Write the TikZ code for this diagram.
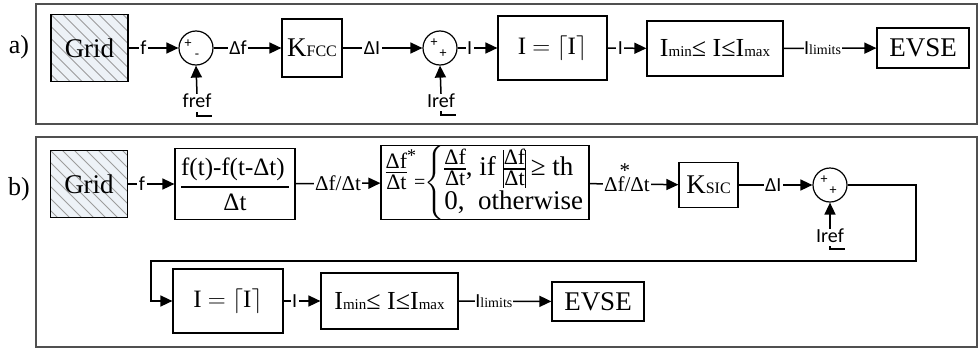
\documentclass[tikz,border=0pt]{standalone}
\usepackage{amsmath}
\usepackage{fontspec}
\setmainfont{Liberation Serif}
\newfontfamily\lblfont{Carlito}
\usetikzlibrary{arrows.meta,calc}
\definecolor{gridfill}{HTML}{EDF2F7}
\definecolor{hatchc}{HTML}{9C9C9C}
\definecolor{panelc}{HTML}{505050}
% stacked fraction built from a tabular
\newcommand\FR[2]{\ensuremath{\vcenter{\hbox{\fontsize{22}{22}\selectfont\setlength\arrayrulewidth{1.3pt}\renewcommand\arraystretch{0.72}\begin{tabular}{@{}c@{}}#1\\[-1pt]\hline\noalign{\vskip 1.5pt}#2\end{tabular}}}}}
\newcommand\VB{\rule[-12pt]{1.1pt}{38pt}}
\begin{document}
\begin{tikzpicture}[x=1pt,y=-1pt,
  blk/.style={draw=black, line width=1.2pt, inner sep=0pt, fill=white, align=center},
  gridbox/.style={blk, fill=gridfill, minimum width=77pt, minimum height=67pt,
     font=\fontsize{27}{27}\selectfont,
     path picture={
       \foreach \k in {-8,...,8}
         \draw[hatchc, line width=1pt]
           ($(path picture bounding box.north west)+(\k*12,0)$) -- ++(90,90);
     }},
  conn/.style={line width=1.5pt, -{Triangle[length=12pt,width=11pt]}},
  lbl/.style={fill=white, inner sep=1.5pt, font=\lblfont\fontsize{20}{20}\selectfont},
  lbls/.style={fill=white, inner sep=1.5pt, font=\fontsize{21}{21}\selectfont},
  reftxt/.style={inner sep=0pt, font=\lblfont\fontsize{20}{20}\selectfont},
  panel/.style={draw=panelc, line width=2pt},
  sumc/.style={circle, draw, line width=1.2pt, minimum size=34pt, inner sep=0pt, fill=white},
  sgn/.style={font=\lblfont\fontsize{14}{14}\selectfont, inner sep=0pt},
  tag/.style={font=\fontsize{26}{26}\selectfont, inner sep=0pt},
  tick/.style={line width=1.3pt}
]
\useasboundingbox (0,0) rectangle (979,351);

% panels
\draw[panel] (36,4) rectangle (977,124);
\draw[panel] (36,137) rectangle (977,347);
\node[tag] (ta) at (19,47) {a)};
\node[tag] (tb) at (19,189) {b)};

% ---------- row a ----------
\node[gridbox] (grida) at (89.5,48) {Grid};
\node[sumc] (suma) at (196,48) {};
\node[sgn] (suma1) at ($(suma.center)+(-8,-4)$) {+};
\node[sgn] (suma2) at ($(suma.center)+(1,8)$) {-};
\node[blk, minimum width=60pt, minimum height=58pt] (kfcc) at (312,48)
  {\fontsize{27}{27}\selectfont K\fontsize{16}{16}\selectfont FCC};
\node[sumc] (sumb) at (440,48) {};
\node[sgn] (sumb1) at ($(sumb.center)+(-6,-5)$) {+};
\node[sgn] (sumb2) at ($(sumb.center)+(3,6)$) {+};
\node[blk, minimum width=109pt, minimum height=64pt] (ceila) at (552.5,48)
  {\fontsize{25}{25}\selectfont I $=$ $\lceil$I$\rceil$};
\node[blk, minimum width=136pt, minimum height=55pt] (limita) at (715,48.5)
  {\fontsize{26}{26}\selectfont I\fontsize{15}{15}\selectfont min\fontsize{26}{26}\selectfont≤ I≤I\fontsize{15}{15}\selectfont max};
\node[blk, minimum width=92pt, minimum height=40pt] (evsea) at (923,48)
  {\fontsize{27}{27}\selectfont EVSE};
\node[reftxt] (frefa) at (197,101) {fref};
\node[reftxt] (irefa) at (441,101) {Iref};

\draw[conn] (grida) -- node[lbl,pos=0.3] (la1) {f} (suma);
\draw[conn] (suma) -- node[lbl,pos=0.36] (la2) {Δf} (kfcc);
\draw[conn] (kfcc) -- node[lbl,pos=0.37] (la3) {ΔI} (sumb);
\draw[conn] (sumb) -- node[lbl,pos=0.3] (la4) {I} (ceila);
\draw[conn] (ceila) -- node[lbl,pos=0.33] (la5) {I} (limita);
\draw[conn] (limita) -- node[lbl,pos=0.42,inner sep=0.5pt] (la6)
  {I{\rmfamily\fontsize{14}{14}\selectfont limits}} (evsea);
\draw[conn] (frefa.north) -- (suma.south);
\draw[conn] (irefa.north) -- (sumb.south);
\draw[tick] (197,112) -- (197,116) -- (212,116);
\draw[tick] (441,111) -- (441,115) -- (456,115);

% ---------- row b ----------
\node[gridbox] (gridb) at (89,184) {Grid};
\node[blk, minimum width=120pt, minimum height=71pt] (diffb) at (235,184)
  {\fontsize{25}{25}\selectfont $\genfrac{}{}{1.8pt}{0}{\text{f(t)-f(t-Δt)\,}}{\text{Δt}}$};
\node[blk, minimum width=208pt, minimum height=73pt] (casesb) at (485,182.5)
  {\fontsize{27}{27}\selectfont\raisebox{9pt}{\FR{Δf}{Δt}}\raisebox{27pt}{\smash{\fontsize{18}{18}\selectfont *}}\hspace{-2pt}{\fontsize{20}{20}\selectfont =}\hspace{-1pt}$\left\{\vcenter{\hbox{\renewcommand\arraystretch{0.85}\begin{tabular}{@{}l@{}}\FR{Δf}{Δt}, if \VB\FR{Δf}{Δt}\VB\,≥ th\\ 0,\ \ otherwise\end{tabular}}}\right.$};
\node[blk, minimum width=59pt, minimum height=45pt] (ksic) at (708.5,185)
  {\fontsize{27}{27}\selectfont K\fontsize{16}{16}\selectfont SIC};
\node[sumc] (sumc) at (830,185) {};
\node[sgn] (sumc1) at ($(sumc.center)+(-6,-5)$) {+};
\node[sgn] (sumc2) at ($(sumc.center)+(3,6)$) {+};
\node[reftxt] (irefb) at (830,236) {Iref};
\node[blk, minimum width=110pt, minimum height=64pt] (ceilb) at (228,301)
  {\fontsize{25}{25}\selectfont I $=$ $\lceil$I$\rceil$};
\node[blk, minimum width=137pt, minimum height=56pt] (limitb) at (389.5,301)
  {\fontsize{26}{26}\selectfont I\fontsize{15}{15}\selectfont min\fontsize{26}{26}\selectfont≤ I≤I\fontsize{15}{15}\selectfont max};
\node[blk, minimum width=92pt, minimum height=39pt] (evseb) at (598,301.5)
  {\fontsize{27}{27}\selectfont EVSE};
\coordinate (c1) at (916,261);
\coordinate (c2) at (151,261);

\draw[conn] (gridb) -- node[lbl,pos=0.3] (lb1) {f} (diffb);
\draw[conn] (diffb) -- node[lbls,pos=0.5] (lb2) {Δf/Δt} (casesb);
\draw[conn] (casesb) -- node[lbls,pos=0.42] (lb3) {Δ\makebox[0pt][l]{\smash{\raisebox{1.45ex}{\hspace{2pt}*}}}f/Δt} (ksic);
\draw[conn] (ksic) -- node[lbl,pos=0.47] (lb4) {ΔI} (sumc);
\draw[conn] (irefb.north) -- (sumc.south);
\draw[tick] (830,246) -- (830,249) -- (845,249);
\draw[conn] (sumc) -| (c1) -- (c2) |- (ceilb);
\draw[conn] (ceilb) -- node[lbl,pos=0.3] (lb5) {I} (limitb);
\draw[conn] (limitb) -- node[lbl,pos=0.38,inner sep=0.5pt] (lb6)
  {I{\rmfamily\fontsize{14}{14}\selectfont limits}} (evseb);
\end{tikzpicture}
\end{document}
